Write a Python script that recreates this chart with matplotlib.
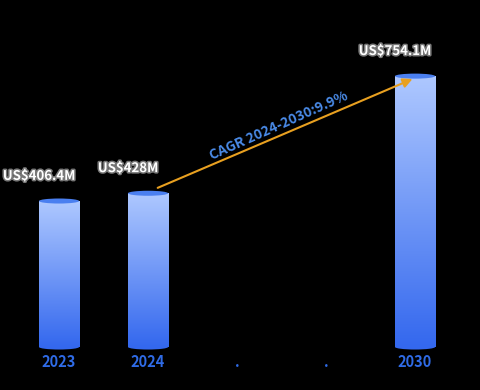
import numpy as np
import matplotlib
matplotlib.use("Agg")
import matplotlib.pyplot as plt
from matplotlib.patches import Ellipse, Rectangle
from matplotlib.colors import LinearSegmentedColormap
import matplotlib.patheffects as pe

# data
years = ["2023", "2024", ".", ".", "2030"]
values = [406.4, 428, 0, 0, 754.1]
labels = ["US$406.4M", "US$428M", "", "", "US$754.1M"]
cagr_text = "CAGR 2024-2030:9.9%"

plt.rcParams['font.family'] = ['Noto Sans CJK SC', 'DejaVu Sans']

fig = plt.figure(figsize=(4.8, 3.9), dpi=100, facecolor="black")
ax = fig.add_axes([0, 43 / 390, 1, 347 / 390])
ax.set_facecolor("black")
ax.set_xlim(-0.663, 4.73)
ax.set_ylim(0, 966)
ax.axis("off")

cmap = LinearSegmentedColormap.from_list("cyl", ["#3468ee", "#aec8ff"])
grad = np.linspace(0, 1, 256).reshape(-1, 1)
w = 0.45
eh = 14  # ellipse height in data units

for i, v in enumerate(values):
    if v <= 0:
        continue
    # gradient body
    im = ax.imshow(grad, cmap=cmap, origin="lower", aspect="auto",
                   extent=(i - w / 2, i + w / 2, 0, v), zorder=2)
    clip = Rectangle((i - w / 2, 0), w, v, transform=ax.transData)
    im.set_clip_path(clip)
    # bottom rounding
    ax.add_patch(Ellipse((i, 0), w, eh, color="#3468ee", zorder=1, lw=0,
                         clip_on=False))
    # top cap
    ax.add_patch(Ellipse((i, v), w, eh, color="#4a7ff0", zorder=3, lw=0))
    ax.text(i - 0.225, v + 70, labels[i], ha="center", va="center", color="white",
            fontsize=9.5, fontweight="bold", zorder=5,
            path_effects=[pe.withStroke(linewidth=2.2, foreground="#777777")])

# year labels
for i, y in enumerate(years):
    ax.text(i, -42, y, ha="center", va="center", color="#2f6be6",
            fontsize=10.5, fontweight="bold", clip_on=False)

# CAGR arrow
ax.annotate("", xy=(4.0, values[4] - 5), xytext=(1.08, values[1] + 12),
            arrowprops=dict(arrowstyle="-|>", color="#e8a020", lw=1.5,
                            mutation_scale=14), zorder=6)
ax.text(2.47, 615, cagr_text, ha="center", va="center", color="#4a8be8",
        fontsize=10, fontweight="bold", rotation=24, zorder=6)

fig.savefig("out.png", dpi=100, facecolor="black")
